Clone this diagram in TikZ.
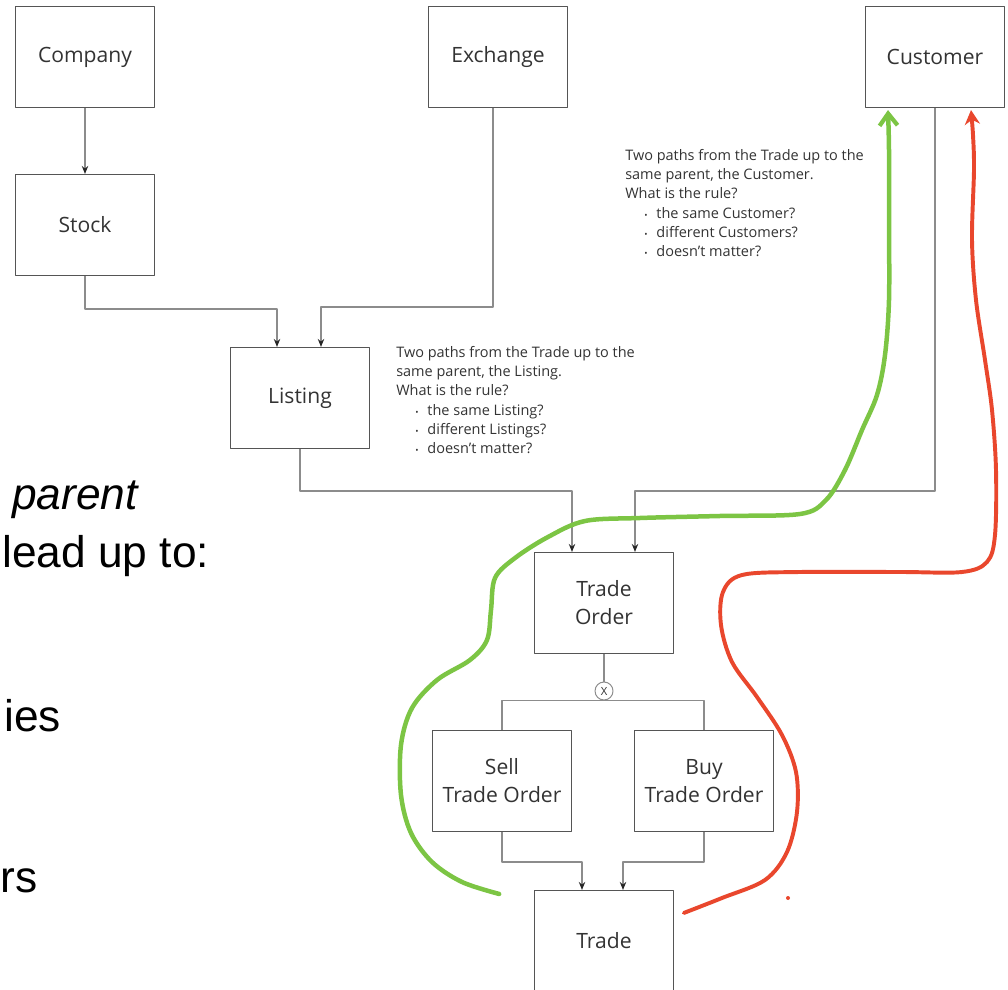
\documentclass[tikz,border=0pt]{standalone}
\usepackage{fontspec}
\setmainfont{Open Sans}
\newfontfamily\slidefont{Liberation Sans}
\usetikzlibrary{arrows.meta,calc}

\definecolor{boxline}{HTML}{555555}
\definecolor{linkgray}{HTML}{8C8C8C}
\definecolor{ink}{HTML}{333333}
\definecolor{pathgreen}{HTML}{7CC544}
\definecolor{pathred}{HTML}{E9472D}

\tikzset{
  entity/.style={draw=boxline, line width=0.9pt, minimum width=3.46cm, minimum height=2.52cm,
    align=center, text=ink, font=\fontsize{15}{20}\selectfont},
  link/.style={draw=linkgray, line width=0.8pt},
  note/.style={anchor=north west, align=left, text=ink, inner sep=0pt,
    font=\fontsize{10.3}{13.7}\selectfont},
  slide/.style={anchor=base west, inner sep=0pt, font=\slidefont\fontsize{31.5}{36}\selectfont},
  sketch/.style={line width=3.2pt, line cap=round, line join=round},
}
\newcommand{\bul}[1]{\hspace*{0.48cm}\makebox[0.3cm][l]{\scalebox{0.6}{\textbullet}}#1}

\begin{document}
\begin{tikzpicture}[x=0.025cm, y=-0.025cm, >={Stealth[length=2mm,width=1.6mm,color=black!85]},
    line join=round]
  \useasboundingbox (0,0) rectangle (1008,990);
  \clip (0,0) rectangle (1008,990);

  % 1. Entities
  \node[entity] (company)    at (85,57)   {Company};
  \node[entity] (stock)      at (85,225)  {Stock};
  \node[entity] (exchange)   at (498,57)  {Exchange};
  \node[entity] (customer)   at (935,57)  {Customer};
  \node[entity] (listing)    at (300,398) {Listing};
  \node[entity] (tradeorder) at (604,603) {Trade\\Order};
  \node[entity] (sell)       at (502,781) {Sell\\Trade Order};
  \node[entity] (buy)        at (704,781) {Buy\\Trade Order};
  \node[entity] (trade)      at (604,941) {Trade};
  \node[draw=linkgray, line width=0.7pt, circle, inner sep=0pt, minimum size=0.45cm,
    text=ink, font=\fontsize{8}{8}\selectfont] (xor) at (604,691) {X};

  % 2. Relationships
  \draw[link,->] (company) -- (stock);
  \draw[link,->] (stock.south) -- ++(0,33) -| ($(listing.north)+(-23,0)$);
  \draw[link,->] ($(exchange.south)+(-5,0)$) -- ++(0,199) -| ($(listing.north)+(21,0)$);
  \draw[link,->] (listing.south) -- ++(0,42) -| ($(tradeorder.north)+(-32,0)$);
  \draw[link,->] (customer.south) -- ++(0,383) -| ($(tradeorder.north)+(31,0)$);
  \draw[link] (tradeorder) -- (xor);
  \draw[link] (sell.north) |- (xor.south) -| (buy.north);
  \draw[link,->] (sell.south) -- ++(0,30) -| ($(trade.north)+(-22,0)$);
  \draw[link,->] (buy.south) -- ++(0,30) -| ($(trade.north)+(19,0)$);

  % 3. Notes
  \node[note] (customernote) at (625,149) {Two paths from the Trade up to the\\
    same parent, the Customer.\\ What is the rule?\\
    \bul{the same Customer?}\\ \bul{different Customers?}\\ \bul{doesn't matter?}};
  \node[note] (listingnote) at (396,346) {Two paths from the Trade up to the\\
    same parent, the Listing.\\ What is the rule?\\
    \bul{the same Listing?}\\ \bul{different Listings?}\\ \bul{doesn't matter?}};

  % 4. Slide text cut off at the left
  \node[slide] (parentword) at (12,510) {\itshape parent};
  \node[slide] (leadup) at (2,568) {lead up to:};
  \node[slide] (iesword) at (4,731) {ies};
  \node[slide] (rsword) at (0,892) {rs};

  % 5. Hand drawn paths
  \coordinate (gstart) at ($(trade.north west)+(-35,4)$);
  \coordinate (gend) at ($(customer.south)+(-47,2)$);
  \draw[sketch, draw=pathgreen, -{Straight Barb[length=3mm,width=4.5mm,line width=3pt]}]
    plot[smooth, tension=0.55] coordinates {(gstart) (462,882) (432,862) (411,833) (401,795)
      (401,745) (412,708) (437,680) (470,660) (487,640) (491,610) (495,578) (515,558)
      (548,537) (585,521) (640,518) (720,516) (800,514) (826,500) (845,470) (862,430)
      (877,395) (885,355) (889,300) (889,220) (889,150) (gend)};

  \coordinate (rstart) at ($(trade.north east)+(10,23)$);
  \coordinate (rend) at ($(customer.south)+(36,2)$);
  \draw[sketch, draw=pathred, line width=2.8pt, -{Stealth[length=3.6mm,width=3.8mm]}]
    plot[smooth, tension=0.55] coordinates {(rstart) (722,898) (765,880) (787,852) (797,812)
      (796,772) (782,735) (757,697) (732,662) (721,625) (723,592) (742,575) (800,572)
      (900,572) (962,572) (987,562) (995,535) (996,470) (992,410) (985,360) (976,300)
      (972,240) (974,170) (973,135) (rend)};
  \fill[pathred] (788,898) circle (2);
\end{tikzpicture}
\end{document}
